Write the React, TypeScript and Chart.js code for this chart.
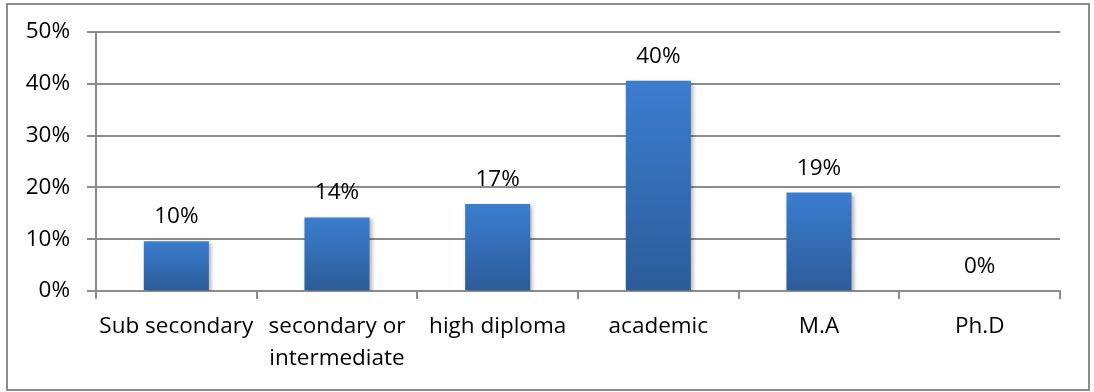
import React, { useEffect, useRef } from "react";
import { Chart, registerables } from "chart.js";

Chart.register(...registerables);

const categories: (string | string[])[] = [
  "Sub secondary",
  ["secondary or", "intermediate"],
  "high diploma",
  "academic",
  "M.A",
  "Ph.D",
];
const values: number[] = [9.6, 14.2, 16.8, 40.6, 19.0, 0];
const valueLabels: string[] = ["10%", "14%", "17%", "40%", "19%", "0%"];
const yTicks: number[] = [0, 10, 20, 30, 40, 50];

const FONT = "'Open Sans'";
const FONT_SIZE = 22.5;
const GRID = "#8c8c8c";

const labelPlugin = {
  id: "valueLabels",
  afterDatasetsDraw(chart: any) {
    const ctx = chart.ctx;
    const meta = chart.getDatasetMeta(0);
    ctx.save();
    ctx.font = `${FONT_SIZE}px ${FONT}`;
    ctx.fillStyle = "#000";
    ctx.textAlign = "center";
    ctx.textBaseline = "alphabetic";
    meta.data.forEach((el: any, i: number) => {
      ctx.fillText(valueLabels[i], el.x, el.y - 18);
    });
    ctx.restore();
  },
};

const shadowPlugin = {
  id: "barShadow",
  beforeDatasetsDraw(chart: any) {
    const ctx = chart.ctx;
    ctx.save();
    ctx.shadowColor = "rgba(0,0,0,0.3)";
    ctx.shadowBlur = 4;
    ctx.shadowOffsetX = 2;
    ctx.shadowOffsetY = 2;
  },
  afterDatasetsDraw(chart: any) {
    chart.ctx.restore();
  },
};

export default function App() {
  const ref = useRef<HTMLCanvasElement | null>(null);
  useEffect(() => {
    if (!ref.current) return;
    const chart = new Chart(ref.current, {
      type: "bar",
      data: {
        labels: categories,
        datasets: [
          {
            data: values,
            backgroundColor: (c: any) => {
              const chart = c.chart;
              const ys = chart.scales && chart.scales.y;
              if (!ys || c.parsed == null || c.parsed.y == null) return "#3670bb";
              const top = ys.getPixelForValue(c.parsed.y);
              const bot = ys.getPixelForValue(0);
              if (!isFinite(top) || !isFinite(bot) || bot - top < 1) return "#3670bb";
              const g = chart.ctx.createLinearGradient(0, top, 0, bot);
              g.addColorStop(0, "#3b7dd0");
              g.addColorStop(1, "#2c5c98");
              return g;
            },
            borderWidth: 0,
            categoryPercentage: 1,
            barPercentage: 0.405,
          },
        ],
      },
      options: {
        animation: false,
        responsive: false,
        maintainAspectRatio: false,
        layout: { padding: { left: 0, right: 34, top: 32, bottom: 0 } },
        plugins: {
          legend: { display: false },
          tooltip: { enabled: false },
        },
        scales: {
          x: {
            grid: {
              display: true,
              drawOnChartArea: false,
              drawTicks: true,
              tickLength: 8,
              offset: true,
              color: GRID,
              lineWidth: 2,
            },
            border: { display: true, color: GRID, width: 2 },
            ticks: {
              color: "#000",
              font: { family: FONT, size: FONT_SIZE, lineHeight: "32px" },
              padding: 12,
              maxRotation: 0,
              autoSkip: false,
            },
            afterFit(scale: any) {
              scale.height = 101;
            },
          },
          y: {
            min: 0,
            max: 50,
            afterBuildTicks(scale: any) {
              scale.ticks = yTicks.map((v) => ({ value: v }));
            },
            grid: {
              color: GRID,
              lineWidth: 2,
              tickLength: 9,
            },
            border: { display: true, color: GRID, width: 2 },
            ticks: {
              color: "#000",
              font: { family: FONT, size: FONT_SIZE },
              padding: 17,
              callback: (v: any) => v + "%",
            },
            afterFit(scale: any) {
              scale.width = 96;
            },
          },
        },
      },
      plugins: [shadowPlugin, labelPlugin],
    });
    return () => chart.destroy();
  }, []);
  return (
    <div style={{ position: "fixed", left: 0, top: 0, width: 1094, height: 392, background: "#fff" }}>
      <canvas ref={ref} width={1094} height={392} style={{ position: "absolute", left: 0, top: 0 }} />
      <div
        style={{
          position: "absolute",
          left: 6,
          top: 3,
          width: 1084,
          height: 388,
          boxSizing: "border-box",
          border: "2px solid #8c8c8c",
          pointerEvents: "none",
        }}
      />
    </div>
  );
}
